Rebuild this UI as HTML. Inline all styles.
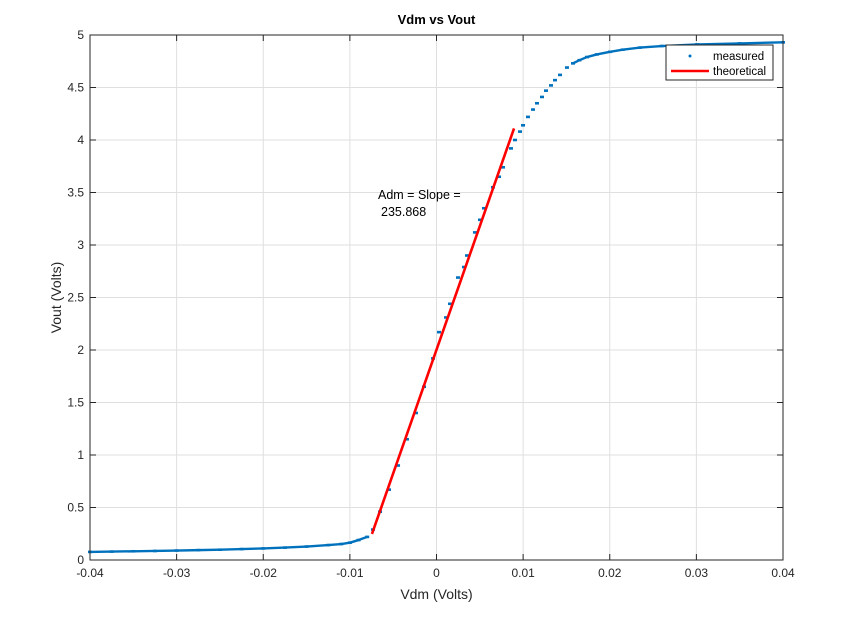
<!DOCTYPE html>
<html><head><meta charset="utf-8"><style>
body{margin:0;background:#fff;}
svg{display:block;font-family:"Liberation Sans",Arial,sans-serif;}
</style></head><body>
<svg id="chart" width="848" height="617">
<rect x="0" y="0" width="848" height="617" fill="#fff"/>
<rect x="90" y="35" width="693" height="525" fill="#fff" stroke="none"/>
<g id="grid"></g><g id="ticks"></g><g id="series"></g>
<rect x="90" y="35" width="693" height="525" fill="none" stroke="#262626" stroke-width="1"/>
<text x="436.5" y="24" text-anchor="middle" font-size="13" font-weight="bold" fill="#000">Vdm vs Vout</text>
<text x="436.5" y="599" text-anchor="middle" font-size="14" fill="#262626">Vdm (Volts)</text>
<text transform="translate(61,297.5) rotate(-90)" text-anchor="middle" font-size="14" fill="#262626">Vout (Volts)</text>
<text x="378" y="199" font-size="12.5" fill="#000"><tspan x="378">Adm = Slope =</tspan><tspan x="381" dy="17">235.868</tspan></text>
<g>
<rect x="666" y="45" width="107" height="35" fill="#fff" stroke="#262626" stroke-width="1"/>
<circle cx="690" cy="56" r="1.5" fill="#0072BD"/>
<text x="713" y="60" font-size="11.5" fill="#000">measured</text>
<line x1="671" y1="71" x2="709" y2="71" stroke="#ff0000" stroke-width="2.5"/>
<text x="713" y="75" font-size="11.5" fill="#000">theoretical</text>
</g>
</svg>
<script>
const xTicks=[-0.04,-0.03,-0.02,-0.01,0,0.01,0.02,0.03,0.04];
const xTickLabels=["-0.04","-0.03","-0.02","-0.01","0","0.01","0.02","0.03","0.04"];
const yTicks=[0,0.5,1,1.5,2,2.5,3,3.5,4,4.5,5];
const yTickLabels=["0","0.5","1","1.5","2","2.5","3","3.5","4","4.5","5"];
const measuredX=[-0.04,-0.0375,-0.035,-0.0325,-0.03,-0.0275,-0.025,-0.0225,-0.02,-0.0175,-0.015,-0.0125,-0.011,-0.01,-0.009,-0.008,-0.00733,-0.00652,-0.00548,-0.00444,-0.00341,-0.00237,-0.00144,-0.0004,0.00029,0.0011,0.00156,0.00248,0.00317,0.00352,0.00444,0.00502,0.00548,0.00652,0.00722,0.00768,0.0086,0.00906,0.00964,0.00999,0.01056,0.01114,0.0116,0.01218,0.01264,0.01322,0.01368,0.01426,0.01506,0.01576,0.0165,0.01737,0.0185,0.02003,0.0215,0.02349,0.026,0.03007,0.035,0.04];
const measuredY=[0.077,0.08,0.083,0.086,0.09,0.094,0.098,0.104,0.11,0.118,0.128,0.142,0.152,0.165,0.19,0.22,0.29,0.46,0.67,0.9,1.15,1.4,1.65,1.92,2.17,2.31,2.44,2.69,2.79,2.9,3.12,3.24,3.35,3.55,3.65,3.74,3.92,4.0,4.08,4.14,4.22,4.29,4.35,4.41,4.47,4.52,4.57,4.62,4.69,4.73,4.76,4.79,4.815,4.84,4.86,4.88,4.895,4.91,4.92,4.93];
const theoX=[-0.00745,0.00895];
const theoY=[0.248,4.11];
const NS="http://www.w3.org/2000/svg";
const X0=90,X1=783,Y0=560,Y1=35;
function sx(v){return X0+(v+0.04)/0.08*(X1-X0);}
function sy(v){return Y0-v/5*(Y0-Y1);}
function mk(tag,attrs,parent){const e=document.createElementNS(NS,tag);for(const k in attrs)e.setAttribute(k,attrs[k]);parent.appendChild(e);return e;}
const grid=document.getElementById('grid'),ticks=document.getElementById('ticks'),series=document.getElementById('series');
xTicks.forEach((t,i)=>{const x=sx(t);
 const g=mk('line',{x1:x,y1:Y1,x2:x,y2:Y0,stroke:'#dfdfdf','stroke-width':1},grid);
 
 
 mk('line',{x1:x,y1:Y0,x2:x,y2:Y0-6,stroke:'#262626'},ticks);
 mk('line',{x1:x,y1:Y1,x2:x,y2:Y1+6,stroke:'#262626'},ticks);
 const tx=mk('text',{x:x,y:Y0+17,'text-anchor':'middle','font-size':12,fill:'#262626'},ticks);
 tx.textContent=xTickLabels[i];
 
 
});
yTicks.forEach((t,i)=>{const y=sy(t);
 const g=mk('line',{x1:X0,y1:y,x2:X1,y2:y,stroke:'#dfdfdf','stroke-width':1},grid);
 
 
 mk('line',{x1:X0,y1:y,x2:X0+6,y2:y,stroke:'#262626'},ticks);
 mk('line',{x1:X1,y1:y,x2:X1-6,y2:y,stroke:'#262626'},ticks);
 const tx=mk('text',{x:X0-6,y:y+4,'text-anchor':'end','font-size':12,fill:'#262626'},ticks);
 tx.textContent=yTickLabels[i];
 
 
});
// connect flat segments (dense tails) so they look continuous
for(let i=1;i<measuredX.length;i++){
 const ya=sy(measuredY[i-1]),yb=sy(measuredY[i]);
 if(Math.abs(yb-ya)<3.5){
  const l=mk('line',{x1:sx(measuredX[i-1]),y1:ya,x2:sx(measuredX[i]),y2:yb,stroke:'#0072BD','stroke-width':2.4},series);
  
  
 }
}
measuredX.forEach((v,i)=>{
 const c=mk('rect',{x:sx(v)-2,y:sy(measuredY[i])-1.3,width:4,height:2.6,fill:'#0072BD'},series);
 
 
});
const tl=mk('line',{x1:sx(theoX[0]),y1:sy(theoY[0]),x2:sx(theoX[1]),y2:sy(theoY[1]),stroke:'#ff0000','stroke-width':2.6},series);


</script>
</body></html>
